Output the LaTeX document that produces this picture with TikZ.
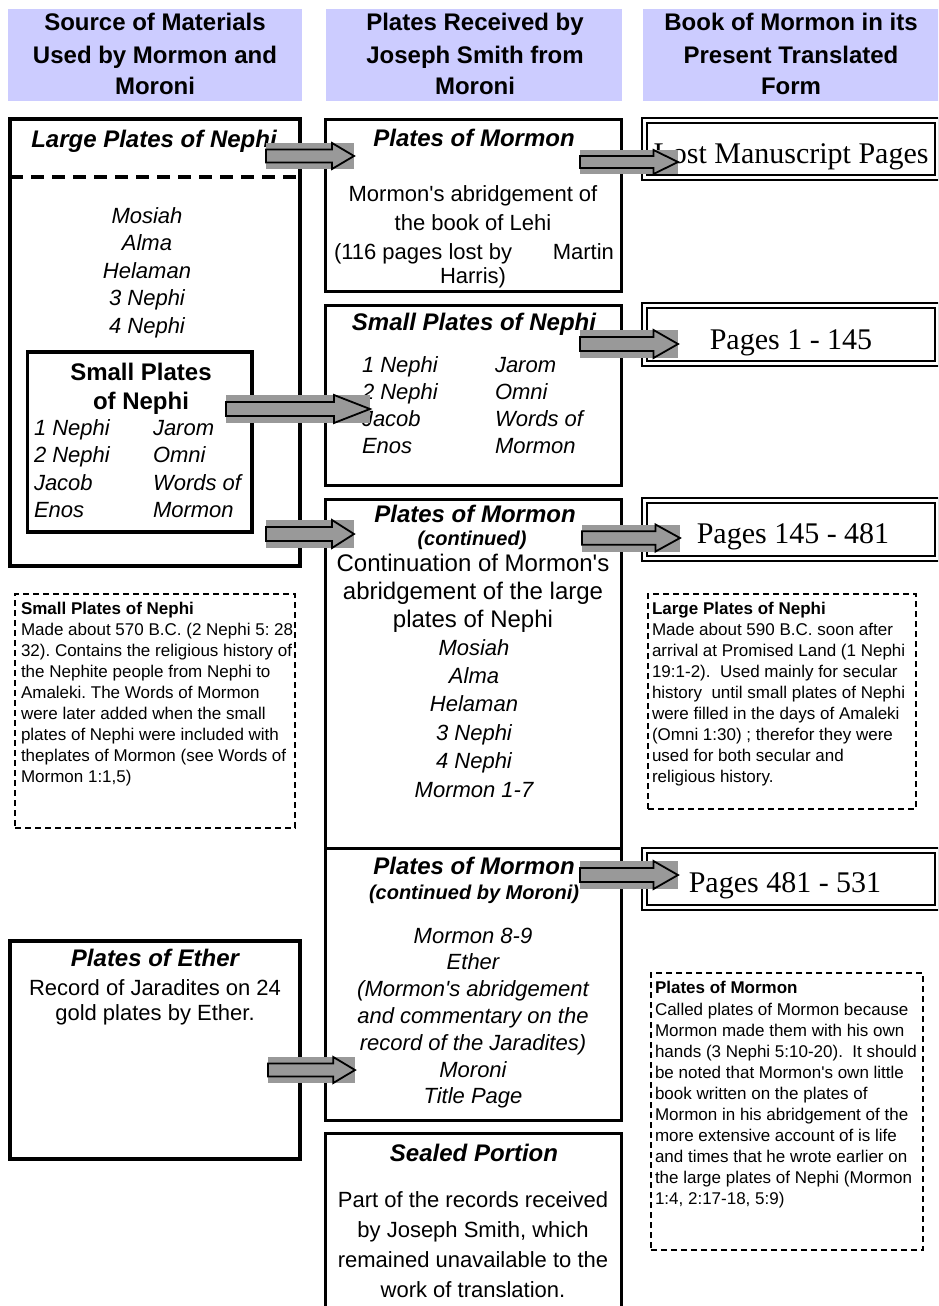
\documentclass[tikz,border=0pt]{standalone}
\usepackage{fontspec}
\setmainfont{Liberation Sans}[Ligatures=TeXOff]
\newfontfamily\timesfont{Liberation Serif}
\usetikzlibrary{calc}
\definecolor{hdrblue}{HTML}{CCCCFF}
\definecolor{agray}{HTML}{999999}
\frenchspacing
\newcommand\blkarrow[3]{%
  \fill[agray] let \p1=(#1), \p2=(#2) in (\x1,\y1-#3) rectangle (\x2,\y1+#3);
  \draw[line width=1.8pt, line join=miter, miter limit=10] let \p1=(#1), \p2=(#2), \n1={0.25*(\x2-\x1)} in
    (\x1,\y1-#3/2) -- (\x2-\n1,\y1-#3/2) -- (\x2-\n1,\y1-#3) -- (\x2,\y1) -- (\x2-\n1,\y1+#3) -- (\x2-\n1,\y1+#3/2) -- (\x1,\y1+#3/2) -- cycle;
}
\begin{document}
% note: for multi-line nodes, anchor=base sits on the LAST line's baseline
\begin{tikzpicture}[x=1pt,y=-1pt,
  every node/.style={inner sep=0pt, outer sep=0pt},
  hdrbox/.style={fill=hdrblue, minimum height=92},
  hdrtxt/.style={font=\fontsize{24}{32}\selectfont\bfseries, align=center, anchor=base},
  ttl/.style={font=\fontsize{24}{29}\selectfont\bfseries\itshape, align=center, anchor=base},
  subttl/.style={font=\fontsize{20}{24}\selectfont\bfseries\itshape, anchor=base},
  lst/.style={font=\fontsize{22}{27.5}\selectfont\itshape, align=center, anchor=base},
  lstl/.style={font=\fontsize{22}{27.5}\selectfont\itshape, align=left, anchor=base west},
  bodytxt/.style={font=\fontsize{22}{28}\selectfont, align=center, anchor=base},
  ntitle/.style={font=\fontsize{17}{21.1}\selectfont\bfseries, anchor=base west},
  nbody/.style={font=\fontsize{17}{21.1}\selectfont, align=left, anchor=base west},
  pgtxt/.style={font=\timesfont\fontsize{30}{36}\selectfont, anchor=base},
  thickbox/.style={draw, line width=4pt},
  midbox/.style={draw, line width=3pt, minimum width=296},
  dblbox/.style={draw, line width=1.9pt, double=white, double distance=3pt, minimum width=293},
  notebox/.style={draw, line width=1.5pt, dash pattern=on 6pt off 4pt}]

\useasboundingbox (0,0) rectangle (938,1306);
\fill[white] (0,0) rectangle (938,1306);
\clip (0,0) rectangle (938,1306);

% headers
\node[hdrbox, minimum width=294] (h1) at (155,55) {};
\node[hdrbox, minimum width=296] (h2) at (474,55) {};
\node[hdrbox, minimum width=296] (h3) at (791,55) {};
\node[hdrtxt] (h1t) at (155,95) {Source of Materials\\Used by Mormon and\\Moroni};
\node[hdrtxt] (h2t) at (475,95) {Plates Received by\\Joseph Smith from\\Moroni};
\node[hdrtxt] (h3t) at (791,95) {Book of Mormon in its\\Present Translated\\Form};

% left column
\node[thickbox, minimum width=290, minimum height=447] (lpn) at (155,342.5) {};
\coordinate (divy) at (0,177);
\draw[line width=4pt, dash pattern=on 13pt off 8pt] (lpn.west |- divy) -- (lpn.east |- divy);
\node[ttl] (lpnt) at (154,147) {Large Plates of Nephi};
\node[lst] (lpnl) at (147,333) {Mosiah\\Alma\\Helaman\\3 Nephi\\4 Nephi};
\node[draw, line width=3.5pt, minimum width=224.5, minimum height=180] (spn) at (139.75,442) {};
\node[ttl, font=\fontsize{24}{29}\selectfont\bfseries] (spnt) at (141,409) {Small Plates\\of Nephi};
\node[lstl] (spnl) at (34,517.5) {1 Nephi\\2 Nephi\\Jacob\\Enos};
\node[lstl] (spnr) at (153,517.5) {Jarom\\Omni\\Words of\\Mormon};

\node[thickbox, minimum width=290, minimum height=218] (eth) at (155,1050) {};
\node[ttl] (etht) at (155,966) {Plates of Ether};
\node[bodytxt, font=\fontsize{22}{25}\selectfont] (ethb) at (155,1020) {Record of Jaradites on 24\\gold plates by Ether.};

% middle column
\node[midbox, minimum height=172] (pm) at (473,205) {};
\node[ttl] (pmt) at (474,146) {Plates of Mormon};
\node[bodytxt, font=\fontsize{22}{29}\selectfont] (pmb) at (473,230) {Mormon's abridgement of\\the book of Lehi};
\node[anchor=base west, font=\fontsize{22}{27}\selectfont] (pmc1) at (334,259) {\makebox[280pt][l]{(116 pages lost by\hfill Martin}};
\node[bodytxt] (pmc2) at (473,283) {Harris)};

\node[midbox, minimum height=180] (spm) at (473,395) {};
\node[ttl] (spmt) at (474,330) {Small Plates of Nephi};
\node[lstl, font=\fontsize{22}{27.3}\selectfont\itshape] (spml) at (362,453.9) {1 Nephi\\2 Nephi\\Jacob\\Enos};
\node[lstl, font=\fontsize{22}{27.3}\selectfont\itshape] (spmr) at (495,453.9) {Jarom\\Omni\\Words of\\Mormon};

\node[midbox, minimum height=349] (pmc) at (473,673.5) {};
\node[ttl] (pmct) at (475,522) {Plates of Mormon};
\node[subttl] (pmcs) at (472,545) {(continued)};
\node[bodytxt, font=\fontsize{24}{28}\selectfont] (pmcb) at (473,627) {Continuation of Mormon's\\abridgement of the large\\plates of Nephi};
\node[lst, font=\fontsize{22}{28.4}\selectfont\itshape] (pmcl) at (474,797) {Mosiah\\Alma\\Helaman\\3 Nephi\\4 Nephi\\Mormon 1-7};

\node[midbox, minimum height=272] (pmm) at (473,984) {};
\node[ttl] (pmmt) at (474,874) {Plates of Mormon};
\node[subttl] (pmms) at (474,899) {(continued by Moroni)};
\node[lst, font=\fontsize{22}{26.8}\selectfont\itshape] (pmml) at (473,1103.8) {Mormon 8-9\\Ether\\(Mormon's abridgement\\and commentary on the\\record of the Jaradites)\\Moroni\\Title Page};

\node[midbox, minimum height=187] (sealed) at (473,1226.5) {};
\node[ttl] (sealedt) at (474,1161) {Sealed Portion};
\node[bodytxt, font=\fontsize{22}{30.3}\selectfont] (sealedb) at (473,1297.9) {Part of the records received\\by Joseph Smith, which\\remained unavailable to the\\work of translation.};

% right column
\node[dblbox, minimum height=57] (lost) at (791,149) {};
\node[pgtxt] (lostt) at (791,163) {Lost Manuscript Pages};
\node[dblbox, minimum height=58] (pg1) at (791,334.5) {};
\node[pgtxt] (pg1t) at (791,349) {Pages 1 - 145};
\node[dblbox, minimum height=58] (pg2) at (791,529.5) {};
\node[pgtxt] (pg2t) at (793,543) {Pages 145 - 481};
\node[dblbox, minimum height=57] (pg3) at (791,879) {};
\node[pgtxt] (pg3t) at (785,892) {Pages 481 - 531};

% notes
\node[notebox, minimum width=280, minimum height=234] (n1) at (155,711) {};
\node[ntitle] (n1t) at (21,614) {Small Plates of Nephi};
\node[nbody] (n1b) at (21,782.7) {Made about 570 B.C. (2 Nephi 5: 28\\32). Contains the religious history of\\the Nephite people from Nephi to\\Amaleki. The Words of Mormon\\were later added when the small\\plates of Nephi were included with\\theplates of Mormon (see Words of\\Mormon 1:1,5)};

\node[notebox, minimum width=268, minimum height=215] (n2) at (782,701.5) {};
\node[ntitle] (n2t) at (652,614) {Large Plates of Nephi};
\node[nbody] (n2b) at (652,782.7) {Made about 590 B.C. soon after\\arrival at Promised Land (1 Nephi\\19:1-2).\ \ Used mainly for secular\\history\ \ until small plates of Nephi\\were filled in the days of Amaleki\\(Omni 1:30) ; therefor they were\\used for both secular and\\religious history.};

\node[notebox, minimum width=272, minimum height=277] (n3) at (787,1111.5) {};
\node[ntitle] (n3t) at (655,993) {Plates of Mormon};
\node[nbody] (n3b) at (655,1204.9) {Called plates of Mormon because\\Mormon made them with his own\\hands (3 Nephi 5:10-20).\ \ It should\\be noted that Mormon's own little\\book written on the plates of\\Mormon in his abridgement of the\\more extensive account of is life\\and times that he wrote earlier on\\the large plates of Nephi (Mormon\\1:4, 2:17-18, 5:9)};

% block arrows
\coordinate (a1s) at (266,156); \coordinate (a1e) at (354,156);
\coordinate (a2s) at (580,162); \coordinate (a2e) at (678,162);
\coordinate (a3s) at (226,409); \coordinate (a3e) at (370,409);
\coordinate (a4s) at (580,344); \coordinate (a4e) at (678,344);
\coordinate (a5s) at (266,534); \coordinate (a5e) at (354,534);
\coordinate (a6s) at (582,538); \coordinate (a6e) at (680,538);
\coordinate (a7s) at (580,875); \coordinate (a7e) at (678,875);
\coordinate (a8s) at (268,1070); \coordinate (a8e) at (355,1070);
\blkarrow{a1s}{a1e}{13}
\blkarrow{a2s}{a2e}{12}
\blkarrow{a3s}{a3e}{14}
\blkarrow{a4s}{a4e}{14}
\blkarrow{a5s}{a5e}{14}
\blkarrow{a6s}{a6e}{13.5}
\blkarrow{a7s}{a7e}{14}
\blkarrow{a8s}{a8e}{13}
\end{tikzpicture}
\end{document}
